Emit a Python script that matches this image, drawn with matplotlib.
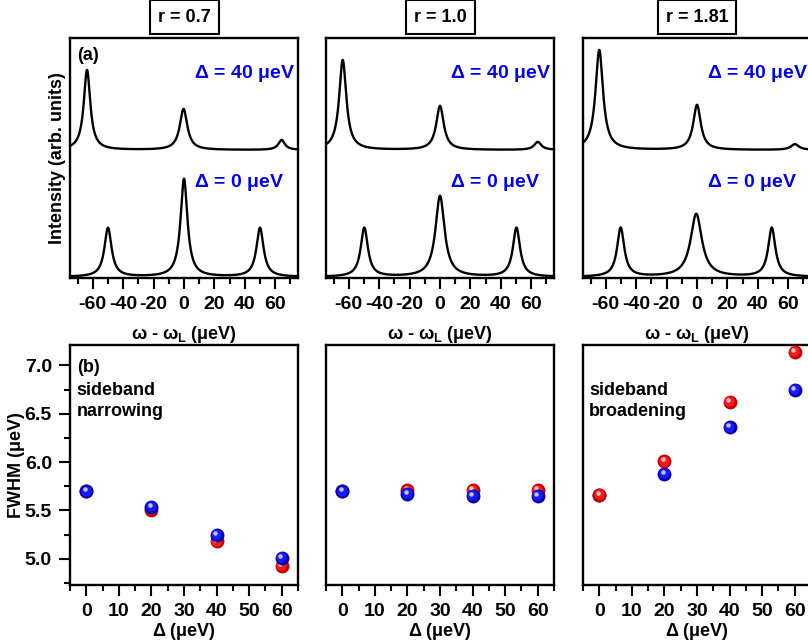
import numpy as np
import matplotlib.pyplot as plt
from matplotlib.transforms import offset_copy
from matplotlib.ticker import MultipleLocator, NullLocator

plt.rcParams['font.family'] = ['Liberation Sans', 'DejaVu Sans']
plt.rcParams['font.weight'] = 'bold'
plt.rcParams['axes.labelweight'] = 'bold'
plt.rcParams['axes.unicode_minus'] = False
plt.rcParams['mathtext.fontset'] = 'custom'
plt.rcParams['mathtext.rm'] = 'Liberation Sans'
plt.rcParams['mathtext.it'] = 'Liberation Sans:italic'
plt.rcParams['mathtext.bf'] = 'Liberation Sans:bold'

ratios = ['r = 0.7', 'r = 1.0', 'r = 1.81']

# emission spectra, one triplet per detuning: centre (ueV), height (arb.), FWHM (ueV)
pos_d0 = [[-50.0, 0.0, 50.0], [-49.8, 0.0, 50.3], [-50.2, -0.5, 49.2]]
amp_d0 = [[0.49, 0.98, 0.49], [0.49, 0.81, 0.49], [0.49, 0.63, 0.49]]
wid_d0 = [[5.7, 5.5, 5.7], [5.7, 7.2, 5.7], [5.7, 9.0, 5.7]]

pos_d40 = [[-63.8, -0.3, 64.2], [-64.0, 0.0, 64.3], [-64.3, 0.0, 64.4]]
amp_d40 = [[0.80, 0.41, 0.10], [0.90, 0.44, 0.08], [1.00, 0.45, 0.057]]
wid_d40 = [[5.2, 6.0, 5.2], [5.7, 6.0, 5.7], [6.0, 6.0, 6.4]]
offset_d40 = 1.27

# sideband linewidths vs detuning
delta = [0, 20, 40, 60]
fwhm_red = [[5.70, 5.51, 5.18, 4.93],
            [5.70, 5.71, 5.71, 5.71],
            [5.66, 6.01, 6.62, 7.14]]
fwhm_blue = [[5.70, 5.54, 5.25, 5.01],
             [5.70, 5.67, 5.65, 5.65],
             [5.66, 5.88, 6.36, 6.75]]

W, H = 808, 642
fig = plt.figure(figsize=(W / 100, H / 100), dpi=100)


def px_axes(left, top, width, height):
    return fig.add_axes([left / W, 1 - (top + height) / H, width / W, height / H])


def lorentz_sum(x, pos, amp, wid):
    y = np.zeros_like(x)
    for x0, a, w in zip(pos, amp, wid):
        hw = w / 2
        y += a * hw ** 2 / ((x - x0) ** 2 + hw ** 2)
    return y


def ball(ax, x, y, base, light, z):
    # shaded sphere: dark rim, body, specular spot
    fig_ = ax.figure
    ax.plot(x, y, 'o', ms=10, color=base, mew=0, zorder=z, clip_on=False)
    t1 = offset_copy(ax.transData, fig=fig_, x=-0.6, y=0.6, units='dots')
    ax.plot(x, y, 'o', ms=7.5, color=light, mew=0, zorder=z + 0.1, transform=t1, clip_on=False)
    t2 = offset_copy(ax.transData, fig=fig_, x=-1.5, y=1.8, units='dots')
    ax.plot(x, y, 'o', ms=3.2, color='white', alpha=0.75, mew=0, zorder=z + 0.2, transform=t2,
            clip_on=False)


def style(ax):
    for s in ax.spines.values():
        s.set_linewidth(1.7)
    ax.tick_params(axis='both', which='both', direction='out', width=1.5, labelsize=14)
    ax.tick_params(which='major', length=8, pad=5)
    ax.tick_params(which='minor', length=4.5)


lefts = [70, 326, 583]
x = np.linspace(-75, 75, 3001)

for i, left in enumerate(lefts):
    # top row: spectra
    ax = px_axes(left, 38, 228, 240)
    style(ax)
    ax.plot(x, lorentz_sum(x, pos_d0[i], amp_d0[i], wid_d0[i]), color='black', lw=1.7)
    ax.plot(x, offset_d40 + lorentz_sum(x, pos_d40[i], amp_d40[i], wid_d40[i]),
            color='black', lw=1.7)
    ax.set_xlim(-75, 75)
    ax.set_ylim(-0.01, 2.39)
    ax.xaxis.set_major_locator(MultipleLocator(20))
    ax.xaxis.set_minor_locator(MultipleLocator(10))
    ax.yaxis.set_major_locator(NullLocator())
    ax.set_xlabel(r'$\mathrm{\omega}$ - $\mathrm{\omega_L}$ (μeV)', fontsize=13, labelpad=8)
    ax.text(0.544, 0.854, r'$\mathrm{\Delta}$ = 40 μeV', color='#0000f0', fontsize=14,
            transform=ax.transAxes, ha='left', va='center')
    ax.text(0.544, 0.396, r'$\mathrm{\Delta}$ = 0 μeV', color='#0000f0', fontsize=14,
            transform=ax.transAxes, ha='left', va='center')
    if i == 0:
        ax.set_ylabel('Intensity (arb. units)', fontsize=13, labelpad=3)
        ax.text(0.03, 0.929, '(a)', fontsize=13, transform=ax.transAxes, ha='left', va='center')
    fig.text((left + 114) / W, 1 - 17 / H, ratios[i], fontsize=13, ha='center', va='center',
             bbox=dict(boxstyle='square,pad=0.45', fc='white', ec='black', lw=1.5))

    # bottom row: linewidths
    bx = px_axes(left, 345, 228, 240)
    style(bx)
    bx.set_xlim(-5, 65)
    bx.set_ylim(4.73, 7.21)
    bx.xaxis.set_major_locator(MultipleLocator(10))
    bx.xaxis.set_minor_locator(MultipleLocator(5))
    bx.set_xlabel(r'$\mathrm{\Delta}$ (μeV)', fontsize=13, labelpad=1)
    if i == 0:
        bx.yaxis.set_major_locator(MultipleLocator(0.5))
        bx.yaxis.set_minor_locator(MultipleLocator(0.25))
        bx.yaxis.set_major_formatter('{x:.1f}')
        bx.set_ylabel('FWHM (μeV)', fontsize=13, labelpad=0)
    else:
        bx.yaxis.set_major_locator(NullLocator())
    if i == 2:
        ball(bx, delta, fwhm_blue[i], '#0000b0', '#1a1aff', 3)
        ball(bx, delta, fwhm_red[i], '#c00000', '#ff1a1a', 4)
    else:
        ball(bx, delta, fwhm_red[i], '#c00000', '#ff1a1a', 3)
        ball(bx, delta, fwhm_blue[i], '#0000b0', '#1a1aff', 4)

    if i == 0:
        bx.text(0.03, 0.905, '(b)', fontsize=13, transform=bx.transAxes, ha='left', va='center')
        bx.text(0.03, 0.81, 'sideband', fontsize=13, transform=bx.transAxes, ha='left', va='center')
        bx.text(0.03, 0.722, 'narrowing', fontsize=13, transform=bx.transAxes, ha='left', va='center')
    if i == 2:
        bx.text(0.026, 0.8125, 'sideband', fontsize=13, transform=bx.transAxes, ha='left', va='center')
        bx.text(0.026, 0.7225, 'broadening', fontsize=13, transform=bx.transAxes, ha='left', va='center')

fig.savefig('out.png', dpi=100)
